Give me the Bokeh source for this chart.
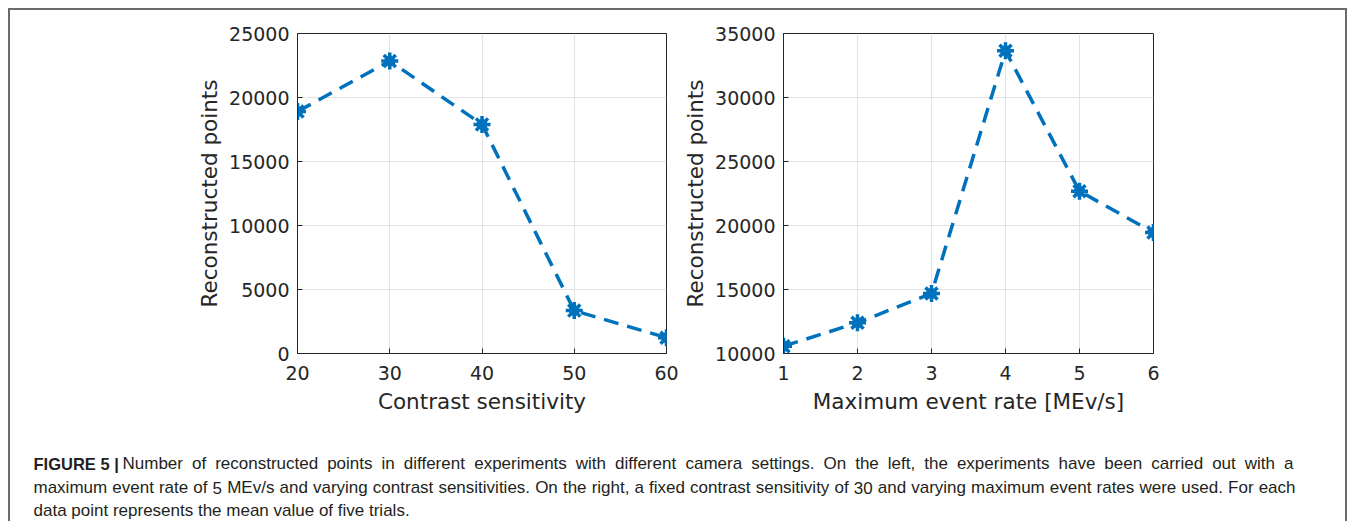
from bokeh.plotting import figure
from bokeh.layouts import column, row
from bokeh.models import Range1d, FixedTicker
from bokeh.embed import file_html
from bokeh.resources import INLINE
from bokeh.core.properties import value

# ---- data ----
contrast = [20, 30, 40, 50, 60]
points_contrast = [18900, 22850, 17900, 3350, 1230]
event_rate = [1, 2, 3, 4, 5, 6]
points_rate = [10570, 12400, 14690, 33650, 22680, 19450]

left_xticks = [20, 30, 40, 50, 60]
left_yticks = [0, 5000, 10000, 15000, 20000, 25000]
right_xticks = [1, 2, 3, 4, 5, 6]
right_yticks = [10000, 15000, 20000, 25000, 30000, 35000]

left_xlabel = "Contrast sensitivity"
right_xlabel = "Maximum event rate [MEv/s]"
ylabel = "Reconstructed points"

caption_bold = "FIGURE 5 |"
caption_lines = [
    "Number of reconstructed points in different experiments with different camera settings. On the left, the experiments have been carried out with a",
    "maximum event rate of 5 MEv/s and varying contrast sensitivities. On the right, a fixed contrast sensitivity of 30 and varying maximum event rates were used. For each",
    "data point represents the mean value of five trials.",
]

BLUE = "#0072BD"
AX = "#262626"
FONT = "DejaVu Sans"


def make_chart(x, y, xr, yr, xticks, yticks, xlabel, mb_left, mb_right, fw):
    p = figure(output_backend="svg", toolbar_location=None,
               frame_width=fw, frame_height=320,
               min_border_left=mb_left, min_border_right=mb_right,
               min_border_top=23, min_border_bottom=72,
               x_range=Range1d(*xr), y_range=Range1d(*yr),
               background_fill_color="white", border_fill_color="white")
    p.outline_line_color = AX
    p.outline_line_width = 1
    p.outline_line_alpha = 1
    for ax in (p.xaxis[0], p.yaxis[0]):
        ax.axis_line_color = AX
        ax.major_tick_line_color = AX
        ax.major_tick_out = 0
        ax.major_tick_in = 5
        ax.minor_tick_line_color = None
        ax.major_label_text_font = FONT
        ax.major_label_text_font_size = "19px"
        ax.major_label_text_color = AX
        ax.axis_label_text_font = FONT
        ax.axis_label_text_font_size = "21.5px"
        ax.axis_label_text_font_style = "normal"
        ax.axis_label_text_color = AX
    p.xaxis[0].ticker = FixedTicker(ticks=xticks)
    p.yaxis[0].ticker = FixedTicker(ticks=yticks)
    p.xaxis[0].major_label_standoff = 12
    p.yaxis[0].major_label_standoff = 8
    p.xaxis[0].axis_label_standoff = 6
    p.yaxis[0].axis_label_standoff = 4
    p.xaxis[0].axis_label = xlabel
    p.yaxis[0].axis_label = ylabel
    p.grid.grid_line_color = "#e3e3e3"
    p.grid.grid_line_width = 1
    p.xgrid.ticker = FixedTicker(ticks=xticks)
    p.ygrid.ticker = FixedTicker(ticks=yticks)
    p.line(x, y, line_color=BLUE, line_width=3.5, line_dash="15 9")
    p.scatter(x, y, marker="circle", size=10, fill_color=BLUE, line_color=BLUE)
    p.scatter(x, y, marker="asterisk", size=17, line_color=BLUE, line_width=3.5)
    return p


p1 = make_chart(contrast, points_contrast, (20, 60), (0, 25000),
                left_xticks, left_yticks, left_xlabel, 287, 14, 369)
p2 = make_chart(event_rate, points_rate, (1, 6), (10000, 35000),
                right_xticks, right_yticks, right_xlabel, 103, 192, 370)

# ---- caption (Arial/Liberation Sans metrics for justification) ----
W = {' ': 278, 'a': 556, 'b': 556, 'c': 500, 'd': 556, 'e': 556, 'f': 278, 'g': 556,
     'h': 556, 'i': 222, 'j': 222, 'k': 500, 'l': 222, 'm': 833, 'n': 556, 'o': 556,
     'p': 556, 'q': 556, 'r': 333, 's': 500, 't': 278, 'u': 556, 'v': 500, 'w': 722,
     'x': 500, 'y': 500, 'z': 500, '.': 278, ',': 278, '/': 278, 'O': 778, 'N': 722,
     'F': 611, 'M': 833, 'E': 667, 'V': 667}
for d in "0123456789":
    W[d] = 556

CAP_SIZE = 17.0


def word_w(wd):
    return sum(W.get(c, 556) for c in wd) / 1000.0 * CAP_SIZE


def justify(line, x0, x1, y):
    words = line.split(" ")
    ws = [word_w(wd) for wd in words]
    gap = (x1 - x0 - sum(ws)) / (len(words) - 1)
    xs, pos = [], x0
    for w_ in ws:
        xs.append(pos)
        pos += w_ + gap
    return xs, [y] * len(words), words


cap = figure(output_backend="svg", toolbar_location=None, width=1335, height=96,
             min_border=0, x_range=Range1d(0, 1335), y_range=Range1d(96, 0),
             background_fill_color="white", border_fill_color="white")
cap.axis.visible = False
cap.grid.visible = False
cap.outline_line_color = None
CAPFONT = "Liberation Sans"
CAPCOL = "#231f20"
cap.text(x=[23], y=[38], text=[caption_bold], text_font=value(CAPFONT),
         text_font_size="16.5px", text_font_style="bold", text_color=CAPCOL,
         text_baseline="middle", text_align="left")
xa, ya, ta = justify(caption_lines[0], 112, 1283, 38)
xb, yb, tb = justify(caption_lines[1], 23, 1285, 62)
cap.text(x=xa + xb + [23], y=ya + yb + [85], text=ta + tb + [caption_lines[2]],
         text_font=value(CAPFONT), text_font_size=f"{CAP_SIZE}px", text_color=CAPCOL,
         text_baseline="middle", text_align="left")

layout = column(row(p1, p2), cap,
                styles={"margin-left": "8px", "margin-top": "8px",
                        "border-top": "2px solid #6b6b6b",
                        "border-left": "2px solid #6b6b6b",
                        "border-right": "2px solid #6b6b6b"})

open("out.html", "w").write(file_html(layout, INLINE))
